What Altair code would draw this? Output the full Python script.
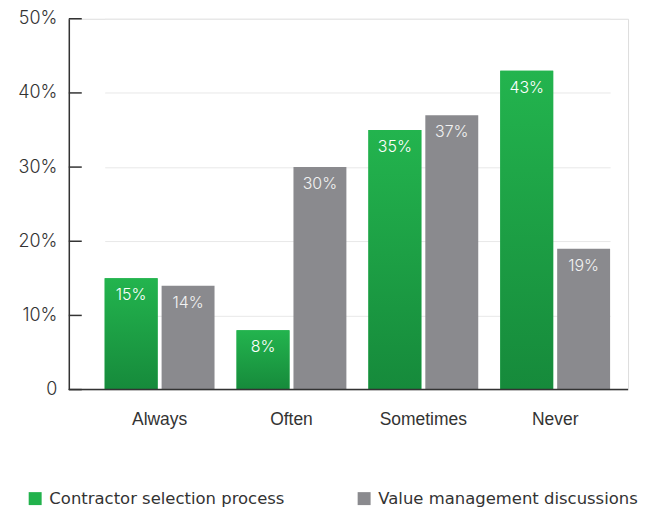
import altair as alt
import pandas as pd

categories = ["Always", "Often", "Sometimes", "Never"]
series_names = ["Contractor selection process", "Value management discussions"]
contractor = [15, 8, 35, 43]
value_mgmt = [14, 30, 37, 19]
y_ticks = [0, 10, 20, 30, 40, 50]

rows = []
for c, a, b in zip(categories, contractor, value_mgmt):
    rows.append({"cat": c, "series": series_names[0], "val": a})
    rows.append({"cat": c, "series": series_names[1], "val": b})
df = pd.DataFrame(rows)
ticks_df = pd.DataFrame({"t": y_ticks})

FONT = "Inter"
FONT2 = "Liberation Sans"
FONT3 = "DejaVu Sans"
W, H = 561, 372

x_enc = alt.X("cat:N", sort=categories,
              scale=alt.Scale(range=[36, 543], paddingInner=0.167, paddingOuter=0),
              axis=alt.Axis(title=None, ticks=False, domain=False, labelAngle=0,
                            labelFontSize=17.5, labelColor="#333333", labelPadding=21,
                            labelFont=FONT2))
xo_enc = alt.XOffset("series:N", sort=series_names,
                     scale=alt.Scale(paddingInner=0.07, paddingOuter=0))
y_enc = alt.Y("val:Q",
              scale=alt.Scale(domain=[0, 50], nice=False),
              axis=alt.Axis(title=None, values=y_ticks, ticks=False, domain=True,
                            domainColor="#333333", domainWidth=1.5,
                            grid=True, gridColor="#e8e8e8",
                            labelFontSize=18, labelColor="#333333", labelPadding=12,
                            labelFont=FONT, labelFontWeight=300,
                            labelExpr="datum.value == 0 ? '0' : datum.value + '%'"))

base = alt.Chart(df)

bars = base.mark_bar().encode(
    x=x_enc, xOffset=xo_enc, y=y_enc,
    color=alt.Color("series:N", sort=series_names,
                    scale=alt.Scale(domain=series_names, range=["#22b24c", "#8a8a8e"]),
                    legend=alt.Legend(title=None, orient="none", direction="horizontal",
                                      legendX=-42, legendY=473,
                                      symbolType="square", symbolSize=169,
                                      symbolStrokeWidth=0, symbolOpacity=1,
                                      labelFontSize=16.5, labelColor="#333333",
                                      labelFont=FONT3, labelOffset=6,
                                      columnPadding=71, labelLimit=400)),
)

grad = alt.LinearGradient(
    gradient="linear",
    stops=[alt.GradientStop(color="#23b44e", offset=0),
           alt.GradientStop(color="#168a3b", offset=1)],
    x1=0, x2=0, y1=0, y2=1,
)
green_overlay = base.transform_filter(
    alt.datum.series == series_names[0]
).mark_bar(color=grad).encode(x=x_enc, xOffset=xo_enc, y=y_enc)

labels = base.transform_calculate(lbl="datum.val + '%'").mark_text(
    baseline="top", dy=9, fontSize=16, font=FONT, fontWeight=300
).encode(
    x=x_enc, xOffset=xo_enc, y=y_enc,
    text="lbl:N",
    color=alt.condition(alt.datum.series == series_names[0],
                        alt.value("#ffffff"), alt.value("#f2f2f2")),
)

tick_rules = alt.Chart(ticks_df).mark_rule(color="#333333", strokeWidth=1.5).encode(
    y=alt.Y("t:Q"), x=alt.value(0), x2=alt.value(13)
)

bottom = alt.Chart(ticks_df).transform_filter(alt.datum.t == 0).mark_rule(
    color="#333333", strokeWidth=1.5
).encode(y=alt.Y("t:Q"), x=alt.value(0), x2=alt.value(W))

chart = alt.layer(bars, green_overlay, labels, tick_rules, bottom).properties(
    width=W, height=H,
    autosize=alt.AutoSizeParams(type="none"),
    padding={"left": 61, "top": 10, "right": 14, "bottom": 118},
).configure_view(stroke=None).configure(background="white")

chart.save("out.html", embed_options={"renderer": "svg", "actions": False})
